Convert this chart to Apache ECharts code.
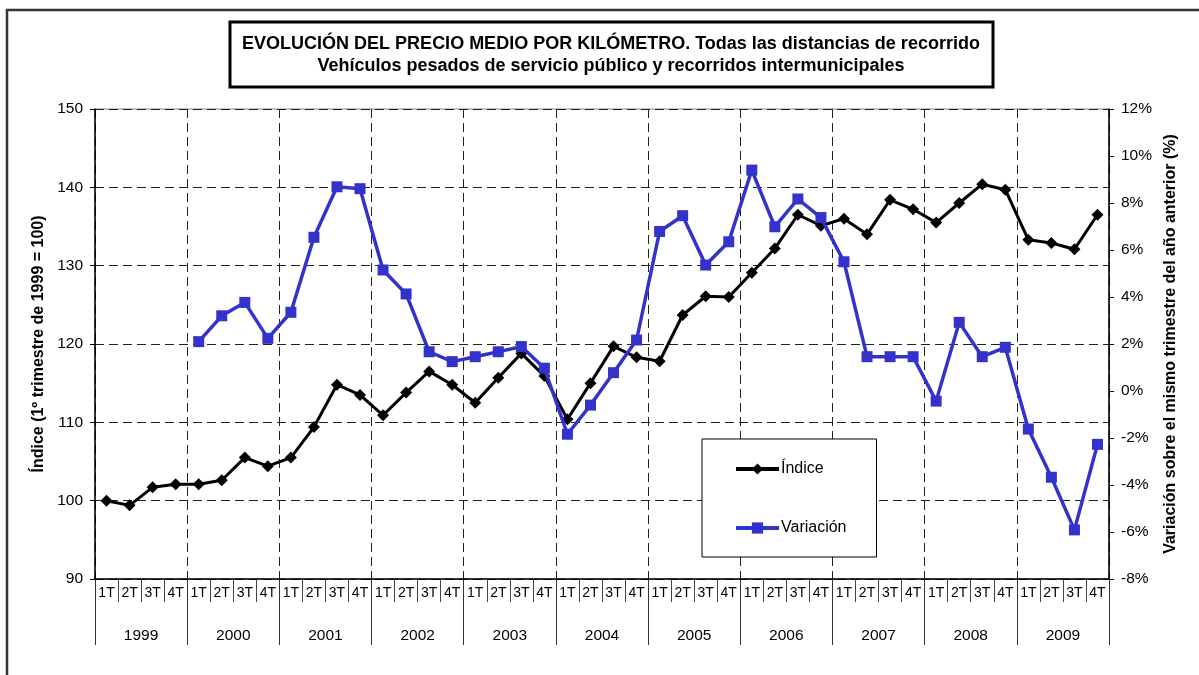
<!DOCTYPE html>
<html>
<head>
<meta charset="utf-8">
<script src="https://cdn.jsdelivr.net/npm/echarts@6/dist/echarts.min.js"></script>
<style>
html,body{margin:0;padding:0;background:#fff;}
#c{width:1199px;height:675px;}
</style>
</head>
<body>
<div id="c"></div>
<script>
const years = ['1999','2000','2001','2002','2003','2004','2005','2006','2007','2008','2009'];
const quarterNames = ['1T','2T','3T','4T'];
const indice = [100.0, 99.4, 101.7, 102.1, 102.1, 102.6, 105.5, 104.4, 105.5, 109.4, 114.8, 113.5,
  110.9, 113.8, 116.5, 114.8, 112.5, 115.7, 118.8, 115.9, 110.4, 115.0, 119.7, 118.3,
  117.8, 123.7, 126.1, 126.0, 129.1, 132.2, 136.5, 135.1, 136.0, 134.0, 138.4, 137.2,
  135.5, 138.0, 140.4, 139.7, 133.3, 132.9, 132.1, 136.5];
const variacion = [null, null, null, null, 2.10, 3.20, 3.77, 2.24, 3.35, 6.54, 8.69, 8.61,
  5.15, 4.13, 1.67, 1.25, 1.46, 1.67, 1.89, 0.97, -1.84, -0.60, 0.78, 2.17,
  6.79, 7.46, 5.36, 6.35, 9.40, 6.99, 8.17, 7.38, 5.50, 1.46, 1.46, 1.46,
  -0.43, 2.92, 1.46, 1.86, -1.62, -3.67, -5.91, -2.27];
const leftTicks = {min: 90, max: 150, interval: 10};
const rightTicks = {min: -8, max: 12, interval: 2};
const titleLines = ['EVOLUCIÓN DEL PRECIO MEDIO POR KILÓMETRO. Todas las distancias de recorrido',
  'Vehículos pesados de servicio público y recorridos intermunicipales'];
const leftName = 'Índice (1º trimestre de 1999 = 100)';
const rightName = 'Variación sobre el mismo trimestre del año anterior (%)';
const seriesNames = ['Índice', 'Variación'];

const quarters = [];
years.forEach(y => quarterNames.forEach(q => quarters.push(q)));

const FONT = '"Liberation Sans", Arial, sans-serif';
const chart = echarts.init(document.getElementById('c'), null, {renderer: 'canvas'});
const dash = {color: '#222', width: 1, type: [9, 5]};

chart.setOption({
  animation: false,
  backgroundColor: '#fff',
  textStyle: {fontFamily: FONT},
  title: {
    text: titleLines.join('\n'),
    left: 611, top: 33,
    padding: 0,
    textAlign: 'center',
    textStyle: {fontFamily: FONT, fontSize: 18, fontWeight: 'bold', color: '#000', lineHeight: 22}
  },
  graphic: [{
    type: 'rect', z: -1, silent: true,
    shape: {x: 7, y: 10, width: 1400, height: 1000},
    style: {fill: 'none', stroke: '#333', lineWidth: 2.5}
  }, {
    type: 'rect', z: 10, silent: true,
    shape: {x: 230, y: 22, width: 763, height: 65},
    style: {fill: 'none', stroke: '#000', lineWidth: 3}
  }],
  legend: {
    orient: 'vertical',
    left: 702, top: 439,
    padding: [22, 30, 21, 32],
    itemWidth: 43, itemHeight: 14, itemGap: 43,
    borderColor: '#000', borderWidth: 1, backgroundColor: '#fff',
    lineStyle: {width: 4},
    textStyle: {fontFamily: FONT, fontSize: 16, color: '#000', padding: [0, 0, 0, -3]},
    data: seriesNames
  },
  grid: {left: 95, right: 90, top: 109, bottom: 96, show: true, borderColor: '#888', borderWidth: 1, containLabel: false},
  xAxis: [{
    type: 'category', data: quarters, position: 'bottom',
    axisLine: {show: true, onZero: false, lineStyle: {color: '#000', width: 1.5}},
    axisTick: {show: true, interval: 0, length: 23, lineStyle: {color: '#444', width: 1}},
    axisLabel: {interval: 0, margin: 7, fontSize: 14, color: '#000', fontFamily: FONT},
    splitLine: {show: false}
  }, {
    type: 'category', data: years, position: 'bottom', offset: 0,
    axisLine: {show: false, onZero: false},
    axisTick: {show: true, interval: 0, length: 66, lineStyle: {color: '#333', width: 1}},
    axisLabel: {interval: 0, margin: 49, fontSize: 15.5, color: '#000', fontFamily: FONT},
    splitLine: {show: true, interval: 0, lineStyle: dash}
  }],
  yAxis: [{
    type: 'value', position: 'left',
    min: leftTicks.min, max: leftTicks.max, interval: leftTicks.interval,
    name: leftName, nameLocation: 'middle', nameRotate: 90, nameGap: 47,
    nameTextStyle: {fontFamily: FONT, fontSize: 16, fontWeight: 'bold', color: '#000'},
    axisLine: {show: true, lineStyle: {color: '#000', width: 1.5}},
    axisTick: {show: true, length: 5, lineStyle: {color: '#000'}},
    axisLabel: {margin: 12, fontSize: 15.5, color: '#000', fontFamily: FONT},
    splitLine: {show: true, lineStyle: dash}
  }, {
    type: 'value', position: 'right',
    min: rightTicks.min, max: rightTicks.max, interval: rightTicks.interval,
    name: rightName, nameLocation: 'middle', nameRotate: 90, nameGap: 50,
    nameTextStyle: {fontFamily: FONT, fontSize: 16, fontWeight: 'bold', color: '#000'},
    axisLine: {show: true, lineStyle: {color: '#000', width: 1.5}},
    axisTick: {show: true, length: 5, lineStyle: {color: '#000'}},
    axisLabel: {margin: 12, fontSize: 15.5, color: '#000', fontFamily: FONT, formatter: '{value}%'},
    splitLine: {show: false}
  }],
  series: [{
    name: seriesNames[0], type: 'line', xAxisIndex: 0, yAxisIndex: 0,
    data: indice,
    symbol: 'diamond', symbolSize: 12,
    lineStyle: {color: '#000', width: 3},
    itemStyle: {color: '#000'},
    z: 3
  }, {
    name: seriesNames[1], type: 'line', xAxisIndex: 0, yAxisIndex: 1,
    data: variacion,
    symbol: 'rect', symbolSize: 11,
    lineStyle: {color: '#3333cc', width: 3.5},
    itemStyle: {color: '#3333cc'},
    z: 4
  }]
});
</script>
</body>
</html>
